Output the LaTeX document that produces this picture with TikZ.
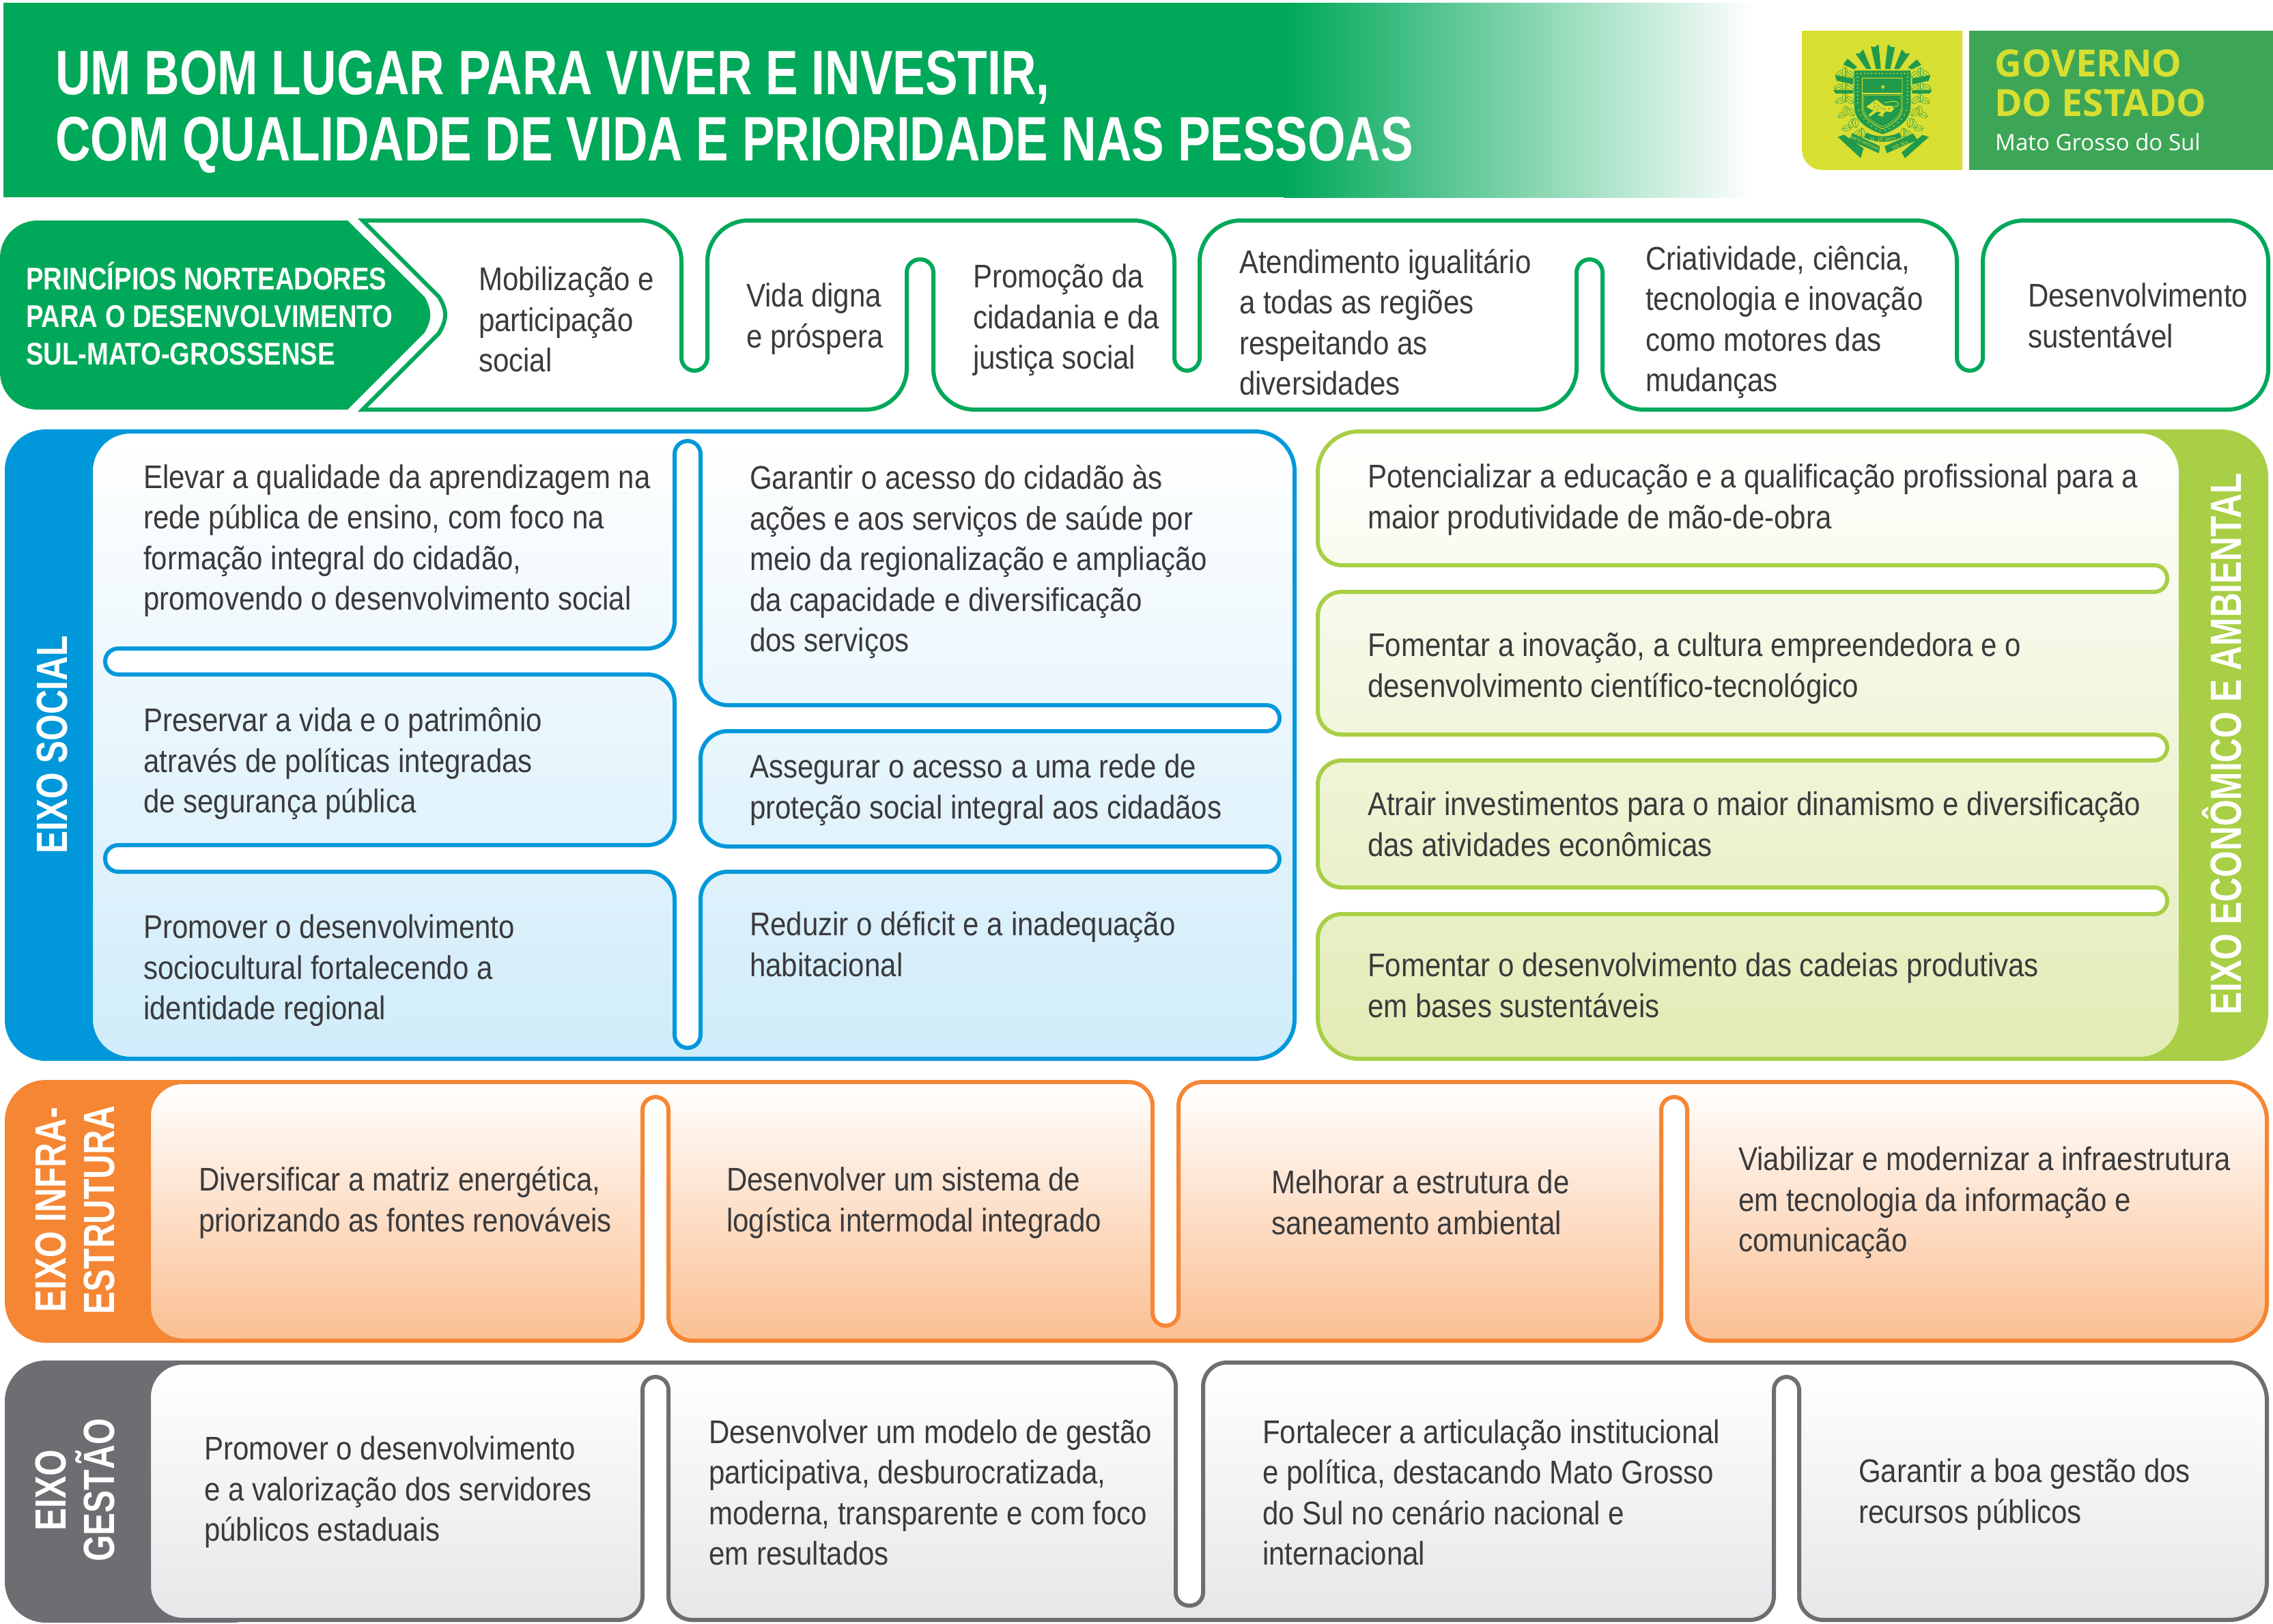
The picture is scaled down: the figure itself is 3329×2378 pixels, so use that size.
\documentclass[tikz,border=0pt]{standalone}
\usepackage{fontspec}
\setmainfont{Liberation Sans}
\newfontfamily\bodyf[FakeStretch=0.875]{Liberation Sans}
\newfontfamily\headf[FakeStretch=0.775]{Liberation Sans}
\newfontfamily\plabf[FakeStretch=0.83]{Liberation Sans}
\newfontfamily\logof{Open Sans}
\definecolor{gh}{HTML}{00A859}
\definecolor{soc}{HTML}{0098DA}
\definecolor{socb}{HTML}{D0ECFA}
\definecolor{eco}{HTML}{A8CF45}
\definecolor{ecob}{HTML}{E3EBB5}
\definecolor{inf}{HTML}{F58634}
\definecolor{infb}{HTML}{FBBF92}
\definecolor{ges}{HTML}{6D6E71}
\definecolor{gesb}{HTML}{E6E7E8}
\definecolor{txt}{HTML}{3A3A3C}
\definecolor{logoy}{HTML}{D7DF32}
\definecolor{logog}{HTML}{3DA656}
\definecolor{crestg}{HTML}{219A4C}
\tikzset{
 body/.style={anchor=west,align=left,inner sep=0pt,text=txt,yshift=-4pt,
   font=\bodyf\fontsize{48}{59.5}\selectfont,
   execute at begin node={\rule{0pt}{42pt}},execute at end node={\rule[-18pt]{0pt}{18pt}}},
 axis/.style={inner sep=0pt,text=white,rotate=90,align=center,
   font=\headf\bfseries\fontsize{64}{71}\selectfont},
 outl/.style={line width=6pt,line join=round},
 prin/.style={draw=gh,line width=6pt,line join=miter},
 rc/.style={rounded corners=#1pt},
}
\begin{document}
\begin{tikzpicture}[x=1pt,y=-1pt]
\useasboundingbox (0,0) rectangle (3329,2378);
% header
\fill[gh] (5,4) rectangle (1880,289);
\shade[left color=gh,middle color=gh!40!white,right color=white] (1880,4) rectangle (2570,289);
\node[anchor=west,align=left,inner sep=0pt,text=white,font=\headf\bfseries\fontsize{92}{97}\selectfont] (title) at (81,167)
 {\rule{0pt}{68pt}UM BOM LUGAR PARA VIVER E INVESTIR,\\COM QUALIDADE DE VIDA E PRIORIDADE NAS PESSOAS\rule[-29pt]{0pt}{29pt}};
% logo
\fill[logoy] (2639,100) [sharp corners] -- (2639,45) -- (2874,45) -- (2874,249) [rc=30] -- (2639,249) -- cycle;
\fill[logog] (2884,45) rectangle (3329,249);
\node[anchor=base west,inner sep=0pt,text=logoy,font=\logof\bfseries\fontsize{55}{55}\selectfont] (gov) at (2921,112) {GOVERNO};
\node[anchor=base west,inner sep=0pt,text=logoy,font=\logof\bfseries\fontsize{55}{55}\selectfont] (est) at (2921,170) {DO ESTADO};
\node[anchor=base west,inner sep=0pt,text=white,font=\logof\fontsize{33}{33}\selectfont] (ms) at (2922,220) {Mato Grosso do Sul};
% crest (coordinates of a 3x view)
\begin{scope}[shift={(2670,55)},x=0.3333pt,y=-0.3333pt]
 \fill[crestg] (88,118) -- (108,93) -- (150,130) -- (135,140) -- cycle;
 \fill[crestg] (142,70) -- (160,70) -- (176,52) -- (212,138) -- (190,138) -- cycle;
 \fill[crestg] (210,38) -- (226,42) -- (244,30) -- (254,138) -- (232,138) -- cycle;
 \fill[crestg] (284,30) -- (300,42) -- (316,42) -- (296,138) -- (272,138) -- cycle;
 \fill[crestg] (346,52) -- (362,70) -- (382,70) -- (335,138) -- (312,138) -- cycle;
 \fill[crestg] (412,96) -- (432,120) -- (390,140) -- (372,132) -- cycle;
 \foreach \m in {0,1}{
  \begin{scope}[shift={(262*\m*2,0)},xscale={1-2*\m}]
   \foreach \lx/\ly/\la in {75/160/35,96/152/90,120/162/140,70/218/20,96/212/90,120/218/150,75/278/20,97/264/90,118/275/140,85/340/25,100/322/85,122/328/130,105/398/10,125/378/70,142/375/100,170/418/90,150/425/60}{
    \draw[crestg,fill=logoy,line width=.5pt,rotate around={\la:(\lx,\ly)}] (\lx,\ly) ellipse (20 and 12);
    \draw[crestg,line width=.6pt,rotate around={\la:(\lx,\ly)}] (\lx-20,\ly) -- (\lx+20,\ly);
   }
   \fill[crestg] (52,165) -- (133,180) -- (133,205) -- (60,190) -- cycle;
   \fill[crestg] (45,230) -- (133,232) -- (133,246) -- (55,246) -- cycle;
  \end{scope}
 }
 \fill[crestg] (137,145) -- (385,145) -- (385,300) .. controls (385,370) and (320,405) .. (262,425) .. controls (200,405) and (137,370) .. (137,300) -- cycle;
 \foreach \sx in {150,166,...,374}{\fill[logoy] (\sx,158) circle (3.2);}
 \foreach \sy in {174,190,...,300}{\fill[logoy] (152,\sy) circle (3.2);\fill[logoy] (371,\sy) circle (3.2);}
 \foreach \sx/\sy in {157/320,167/340,180/358,196/374,213/389,232/401,250/409,273/409,292/401,311/389,328/374,344/358,357/340,366/320}{\fill[logoy] (\sx,\sy) circle (3.2);}
 \draw[logoy,line width=.9pt,fill=crestg] (172,178) -- (348,178) -- (348,315) .. controls (348,350) and (300,385) .. (262,402) .. controls (222,385) and (172,350) .. (172,315) -- cycle;
 \fill[logoy] (172,243) rectangle (348,249);
 \draw[logoy,line width=.5pt] (178,254) -- (342,254) -- (342,312) .. controls (342,345) and (296,378) .. (262,392) .. controls (226,378) and (178,345) .. (178,312) -- cycle;
 \fill[logoy] (263,207) -- (266,213) -- (272,214) -- (267,219) -- (269,226) -- (263,222) -- (257,226) -- (259,219) -- (254,214) -- (260,213) -- cycle;
 \fill[logoy] (190,305) -- (215,285) -- (235,272) -- (250,285) -- (270,300) -- (300,300) -- (312,312) -- (300,328) -- (275,325) -- (262,340) -- (268,348) -- (240,342) -- (255,330) -- (238,325) -- (205,348) -- (200,340) -- (222,320) -- (208,315) -- cycle;
 \draw[logoy,line width=.9pt] (305,302) .. controls (330,310) and (345,285) .. (315,280) .. controls (295,278) and (280,290) .. (268,285);
 \foreach \sx/\sy in {228/290,243/300,258/310,238/315,270/315,290/312,225/303}{\fill[crestg] (\sx,\sy) circle (3);}
 \fill[crestg] (65,437) -- (92,427) -- (178,487) -- (165,530) -- cycle;
 \fill[crestg] (465,437) -- (437,428) -- (345,505) -- (360,530) -- cycle;
 \fill[crestg] (128,420) -- (250,478) -- (245,508) -- (115,450) -- cycle;
 \fill[crestg] (395,422) -- (415,450) -- (280,508) -- (270,478) -- cycle;
 \draw[crestg,line width=8pt] (185,428) .. controls (230,452) and (295,452) .. (340,428);
 \node[text=logoy,inner sep=0pt,font=\fontsize{7}{7}\selectfont] (cr1) at (263,448) {11\ \ 10\ \ 1977};
 \node[text=logoy,inner sep=0pt,rotate=-24,font=\fontsize{6}{6}\selectfont] (cr2) at (183,464) {MATO GROSSO};
 \node[text=logoy,inner sep=0pt,rotate=20,font=\fontsize{7}{7}\selectfont] (cr3) at (342,472) {DO SUL};
\end{scope}
% principles
\fill[gh] (0,460) [rounded corners=55pt] -- (0,323) [sharp corners] -- (509,323) -- (622,435) .. controls (633,455) and (633,467) .. (622,487) -- (509,600) [rounded corners=55pt] -- (0,600) -- cycle;
\draw[prin] (531,323) [rc=60] -- (998,323) [rc=19] -- (998,543) -- (1036,543) [rc=60] -- (1036,323) -- (1720,323) [rc=19] -- (1720,543) -- (1757,543) [rc=60] -- (1757,323) -- (2866,323) [rc=19] -- (2866,543) -- (2904,543) [rc=60] -- (2904,323) -- (3322,323) -- (3322,600) -- (2347,600) [rc=19] -- (2347,380) -- (2309,380) [rc=60] -- (2309,600) -- (1367,600) [rc=19] -- (1367,380) -- (1328,380) [rc=60] -- (1328,600) [sharp corners] -- (531,600) -- (643,488) .. controls (655,467) and (655,455) .. (643,435) -- cycle;
\node[anchor=west,align=left,inner sep=0pt,text=white,font=\plabf\bfseries\fontsize{46}{55}\selectfont] (plabel) at (38,467.5)
 {\rule{0pt}{38pt}PRINCÍPIOS NORTEADORES\\PARA O DESENVOLVIMENTO\\SUL-MATO-GROSSENSE\rule[-17pt]{0pt}{17pt}};
\node[body] (p1) at (701,473) {Mobilização e\\participação\\social};
\node[body] (p2) at (1093,467) {Vida digna\\e próspera};
\node[body] (p3) at (1425,469) {Promoção da\\cidadania e da\\justiça social};
\node[body] (p4) at (1815,477) {Atendimento igualitário\\a todas as regiões\\respeitando as\\diversidades};
\node[body] (p5) at (2410,472) {Criatividade, ciência,\\tecnologia e inovação\\como motores das\\mudanças};
\node[body] (p6) at (2970,467) {Desenvolvimento\\sustentável};
% social
\fill[soc,rounded corners=60pt] (7,629) rectangle (400,1554);
\draw[outl,draw=soc,top color=white,bottom color=socb,rounded corners=58pt] (133,632) rectangle (1896,1551);
\draw[outl,draw=soc,fill=white] (988,800) [rc=19] -- (988,646) -- (1026,646) [rc=40] -- (1026,1033) [rc=19] -- (1874,1033) -- (1874,1071) [rc=40] -- (1026,1071) -- (1026,1240) [rc=19] -- (1874,1240) -- (1874,1277) [rc=40] -- (1026,1277) [rc=19] -- (1026,1535) -- (988,1535) [rc=40] -- (988,1277) [rc=19] -- (154,1277) -- (154,1238) [rc=40] -- (988,1238) -- (988,988) [rc=19] -- (154,988) -- (154,950) [rc=40] -- (988,950) -- cycle;
\node[axis] (soclabel) at (76,1091) {EIXO SOCIAL};
\node[body] (s1) at (210,792) {Elevar a qualidade da aprendizagem na\\rede pública de ensino, com foco na\\formação integral do cidadão,\\promovendo o desenvolvimento social};
\node[body] (s2) at (210,1119) {Preservar a vida e o patrimônio\\através de políticas integradas\\de segurança pública};
\node[body] (s3) at (210,1422) {Promover o desenvolvimento\\sociocultural fortalecendo a\\identidade regional};
\node[body] (s4) at (1098,823) {Garantir o acesso do cidadão às\\ações e aos serviços de saúde por\\meio da regionalização e ampliação\\da capacidade e diversificação\\dos serviços};
\node[body] (s5) at (1098,1157) {Assegurar o acesso a uma rede de\\proteção social integral aos cidadãos};
\node[body] (s6) at (1098,1388) {Reduzir o déficit e a inadequação\\habitacional};
% economic
\fill[eco] (3134,629) [rc=70] -- (3322,629) -- (3322,1554) [sharp corners] -- (3134,1554) -- (3134,1480) -- (3180,1480) -- (3180,700) -- (3134,700) -- cycle;
\draw[outl,draw=eco,top color=white,bottom color=ecob] (2500,632) [rc=60] -- (3194,632) -- (3194,1551) -- (1930,1551) [rc=35] -- (1930,1339) [rc=19] -- (3174,1339) -- (3174,1300) [rc=35] -- (1930,1300) -- (1930,1114) [rc=19] -- (3174,1114) -- (3174,1076) [rc=35] -- (1930,1076) -- (1930,867) [rc=19] -- (3174,867) -- (3174,828) [rc=35] -- (1930,828) [rc=60] -- (1930,632) -- cycle;
\node[axis] (ecolabel) at (3254,1090) {EIXO ECONÔMICO E AMBIENTAL};
\node[body] (e1) at (2003,732) {Potencializar a educação e a qualificação profissional para a\\maior produtividade de mão-de-obra};
\node[body] (e2) at (2003,979) {Fomentar a inovação, a cultura empreendedora e o\\desenvolvimento científico-tecnológico};
\node[body] (e3) at (2003,1212) {Atrair investimentos para o maior dinamismo e diversificação\\das atividades econômicas};
\node[body] (e4) at (2003,1448) {Fomentar o desenvolvimento das cadeias produtivas\\em bases sustentáveis};
% infrastructure
\fill[inf,rounded corners=60pt] (7,1582) rectangle (400,1967);
\draw[outl,draw=inf,top color=white,bottom color=infb] (500,1585) [rc=35] -- (1688,1585) [rc=19] -- (1688,1942) -- (1726,1942) [rc=35] -- (1726,1585) [rc=55] -- (3320,1585) -- (3320,1964) [rc=35] -- (2471,1964) [rc=19] -- (2471,1607) -- (2433,1607) [rc=35] -- (2433,1964) -- (979,1964) [rc=19] -- (979,1607) -- (941,1607) [rc=35] -- (941,1964) [rc=50] -- (218,1964) -- (218,1585) -- cycle;
\node[axis] (inflabel) at (110,1772.5) {EIXO INFRA-\\ESTRUTURA};
\node[body] (i1) at (291,1762) {Diversificar a matriz energética,\\priorizando as fontes renováveis};
\node[body] (i2) at (1064,1762) {Desenvolver um sistema de\\logística intermodal integrado};
\node[body] (i3) at (1862,1766) {Melhorar a estrutura de\\saneamento ambiental};
\node[body] (i4) at (2546,1762) {Viabilizar e modernizar a infraestrutura\\em tecnologia da informação e\\comunicação};
% management
\fill[ges,rounded corners=60pt] (7,1993) rectangle (400,2377);
\draw[outl,draw=ges,top color=white,bottom color=gesb] (500,1996) [rc=35] -- (1722,1996) [rc=19] -- (1722,2352) -- (1762,2352) [rc=35] -- (1762,1996) [rc=55] -- (3320,1996) -- (3320,2373) [rc=35] -- (2635,2373) [rc=19] -- (2635,2017) -- (2598,2017) [rc=35] -- (2598,2373) -- (979,2373) [rc=19] -- (979,2017) -- (941,2017) [rc=35] -- (941,2373) [rc=50] -- (218,2373) -- (218,1996) -- cycle;
\node[axis] (geslabel) at (110,2183) {EIXO\\GESTÃO};
\node[body] (g1) at (299,2186) {Promover o desenvolvimento\\e a valorização dos servidores\\públicos estaduais};
\node[body] (g2) at (1038,2191) {Desenvolver um modelo de gestão\\participativa, desburocratizada,\\moderna, transparente e com foco\\em resultados};
\node[body] (g3) at (1849,2191) {Fortalecer a articulação institucional\\e política, destacando Mato Grosso\\do Sul no cenário nacional e\\internacional};
\node[body] (g4) at (2722,2189) {Garantir a boa gestão dos\\recursos públicos};
\end{tikzpicture}
\end{document}
